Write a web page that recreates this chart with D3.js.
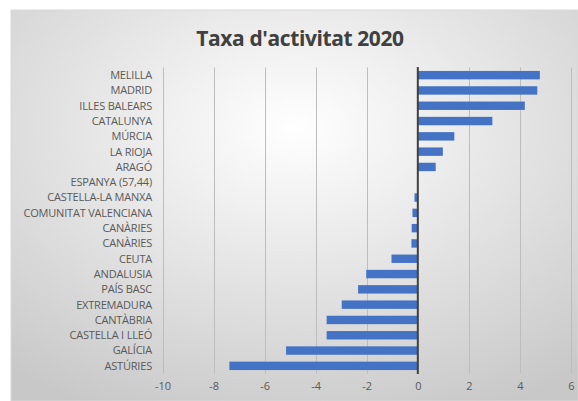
<!DOCTYPE html>
<html>
<head>
<meta charset="utf-8">
<script src="https://cdn.jsdelivr.net/npm/d3@7"></script>
<style>
  html, body { margin: 0; padding: 0; background: #ffffff; }
  svg { display: block; }
</style>
</head>
<body>
<svg id="chart" width="578" height="401"></svg>
<script>
const categories = ["MELILLA","MADRID","ILLES BALEARS","CATALUNYA","MÚRCIA","LA RIOJA","ARAGÓ","ESPANYA (57,44)","CASTELLA-LA MANXA","COMUNITAT VALENCIANA","CANÀRIES","CANÀRIES","CEUTA","ANDALUSIA","PAÍS BASC","EXTREMADURA","CANTÀBRIA","CASTELLA I LLEÓ","GALÍCIA","ASTÚRIES"];
const values = [4.78, 4.68, 4.19, 2.92, 1.43, 0.98, 0.70, 0, -0.13, -0.21, -0.24, -0.25, -1.03, -2.02, -2.34, -2.98, -3.57, -3.57, -5.16, -7.38];
const tickValues = [-10, -8, -6, -4, -2, 0, 2, 4, 6];
const title = "Taxa d'activitat 2020";

const svg = d3.select("#chart");
const defs = svg.append("defs");
const grad = defs.append("radialGradient").attr("id", "bg")
  .attr("cx", "50%").attr("cy", "30%").attr("r", "80%");
grad.append("stop").attr("offset", "0%").attr("stop-color", "#ffffff");
grad.append("stop").attr("offset", "100%").attr("stop-color", "#c8c8c8");

svg.append("rect").attr("x", 11).attr("y", 10).attr("width", 567).attr("height", 391)
  .attr("fill", "url(#bg)").attr("stroke", "#d9d9d9").attr("stroke-width", 1);

const x = d3.scaleLinear().domain([-10, 6]).range([162.5, 571]);
const y = d3.scaleBand().domain(d3.range(categories.length)).range([67.5, 373.5]).paddingInner(0.45).paddingOuter(0.225);

// gridlines
svg.append("g").selectAll("line").data(tickValues.filter(d => d !== 0)).join("line")
  .attr("x1", d => Math.round(x(d)) + 0.5).attr("x2", d => Math.round(x(d)) + 0.5)
  .attr("y1", 67.5).attr("y2", 373.5)
  .attr("stroke", "#bdbdbd").attr("stroke-width", 1);

// bars
svg.append("g").selectAll("rect").data(values).join("rect")
  .attr("x", d => x(Math.min(0, d)))
  .attr("y", (d, i) => y(i))
  .attr("width", d => Math.abs(x(d) - x(0)))
  .attr("height", y.bandwidth())
  .attr("fill", "#4472c4");

// zero line
svg.append("line")
  .attr("x1", x(0)).attr("x2", x(0)).attr("y1", 67).attr("y2", 374)
  .attr("stroke", "#404040").attr("stroke-width", 2);

// category labels
svg.append("g").selectAll("text").data(categories).join("text")
  .attr("x", 152).attr("y", (d, i) => y(i) + y.bandwidth() / 2)
  .attr("dy", "0.35em").attr("text-anchor", "end")
  .attr("font-family", "'Open Sans', 'Liberation Sans', sans-serif")
  .attr("font-size", 11).attr("fill", "#595959")
  .attr("letter-spacing", "-0.2")
  .text(d => d);

// x tick labels
const xAxis = d3.axisBottom(x).tickValues(tickValues).tickSize(0).tickPadding(0)
  .tickFormat(d => String(d));
const ax = svg.append("g").attr("transform", "translate(0,382)").call(xAxis);
ax.select(".domain").remove();
ax.selectAll("text")
  .attr("font-family", "'Open Sans', 'Liberation Sans', sans-serif")
  .attr("font-size", 11).attr("fill", "#595959").attr("dy", "0.71em");

// title
svg.append("text").attr("x", 300).attr("y", 46).attr("text-anchor", "middle")
  .attr("font-family", "'Open Sans', 'Liberation Sans', sans-serif")
  .attr("font-weight", "bold").attr("font-size", 21).attr("fill", "#404040")
  .attr("letter-spacing", "-0.4")
  .text(title);
</script>
</body>
</html>
